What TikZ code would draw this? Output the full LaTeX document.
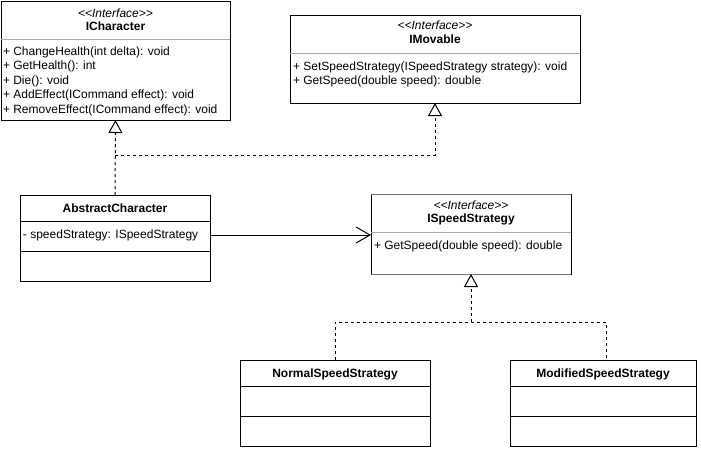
\documentclass[tikz,border=0pt]{standalone}
\usepackage{fontspec}
\setmainfont{Liberation Sans}
\usetikzlibrary{arrows.meta}
\newcommand{\stereotag}{{<}{<}Interface{>}{>}}
\begin{document}
\begin{tikzpicture}[x=1pt,y=-1pt,
  every node/.style={font=\fontsize{12}{14}\selectfont, inner sep=0pt, outer sep=0pt},
  classbox/.style={draw=black, line width=1pt, fill=white, anchor=north west},
  divider/.style={line width=1pt, draw=black},
  softdivider/.style={line width=1pt, draw=black!35},
  stereo/.style={font=\fontsize{12}{14}\selectfont\itshape},
  cname/.style={font=\fontsize{12}{14}\selectfont\bfseries},
  member/.style={anchor=west},
  dashline/.style={line width=1pt, dash pattern=on 3pt off 3pt},
  realize/.style={dashline, -{Triangle[open, length=13pt, width=14pt, fill=white, line width=1pt]}},
  assoc/.style={line width=1pt, -{Straight Barb[length=14pt, width=16pt, line width=1pt]}}
]
\useasboundingbox[fill=white] (0,0) rectangle (701,450);

% ICharacter
\node[classbox, minimum width=229pt, minimum height=119pt] (ichar) at (1,1) {};
\draw[softdivider] (1,39) -- (230,39);
\node[stereo] (icharst) at (115.5,13) {\stereotag};
\node[cname] (icharnm) at (115.5,26) {ICharacter};
\node[member] (ich1) at (3,52) {+ ChangeHealth(int delta): void};
\node[member] (ich2) at (3,66.5) {+ GetHealth(): int};
\node[member] (ich3) at (3,81) {+ Die(): void};
\node[member] (ich4) at (3,95.5) {+ AddEffect(ICommand effect): void};
\node[member] (ich5) at (3,110) {+ RemoveEffect(ICommand effect): void};

% IMovable
\node[classbox, minimum width=290pt, minimum height=88pt] (imov) at (290,15) {};
\draw[softdivider] (290,53) -- (580,53);
\node[stereo] (imovst) at (435,25.5) {\stereotag};
\node[cname] (imovnm) at (435,39) {IMovable};
\node[member] (imv1) at (293,67) {+ SetSpeedStrategy(ISpeedStrategy strategy): void};
\node[member] (imv2) at (293,81) {+ GetSpeed(double speed): double};

% AbstractCharacter
\node[classbox, minimum width=190pt, minimum height=86pt] (abs) at (20,195) {};
\draw[divider] (20,221) -- (210,221);
\draw[divider] (20,251) -- (210,251);
\node[cname] (absnm) at (115,208) {AbstractCharacter};
\node[member] (attr) at (23,235) {- speedStrategy: ISpeedStrategy};

% ISpeedStrategy
\node[classbox, minimum width=200pt, minimum height=80pt] (iss) at (371,194) {};
\draw[line width=1pt, draw=black!55] (iss.north west) -- (iss.north east);
\draw[line width=1pt, draw=black!55] (iss.south west) -- (iss.south east);
\draw[softdivider] (371,232) -- (571,232);
\node[stereo] (issst) at (471,205.5) {\stereotag};
\node[cname] (issnm) at (471,219) {ISpeedStrategy};
\node[member] (iss1) at (374,246) {+ GetSpeed(double speed): double};

% NormalSpeedStrategy
\node[classbox, minimum width=190pt, minimum height=86pt] (norm) at (240,360) {};
\draw[divider] (240,386) -- (430,386);
\draw[divider] (240,416) -- (430,416);
\node[cname] (normnm) at (335,374) {NormalSpeedStrategy};

% ModifiedSpeedStrategy
\node[classbox, minimum width=186pt, minimum height=86pt] (mod) at (510,360) {};
\draw[divider] (510,386) -- (696,386);
\draw[divider] (510,416) -- (696,416);
\node[cname] (modnm) at (603,374) {ModifiedSpeedStrategy};

% realizations of ICharacter and IMovable
\coordinate (j1) at (115,155);
\draw[realize] (abs.north) -- (ichar.south);
\draw[realize] (j1) -| (imov.south);

% realizations of ISpeedStrategy
\coordinate (mtop) at (606,360);
\coordinate (j2) at (471,322);
\draw[dashline] (norm.north) |- (j2) -| (mtop);
\draw[realize] (j2) -- (iss.south);

% association
\draw[assoc] (abs.east |- attr.west) -- (iss.west |- attr.west);
\end{tikzpicture}
\end{document}
